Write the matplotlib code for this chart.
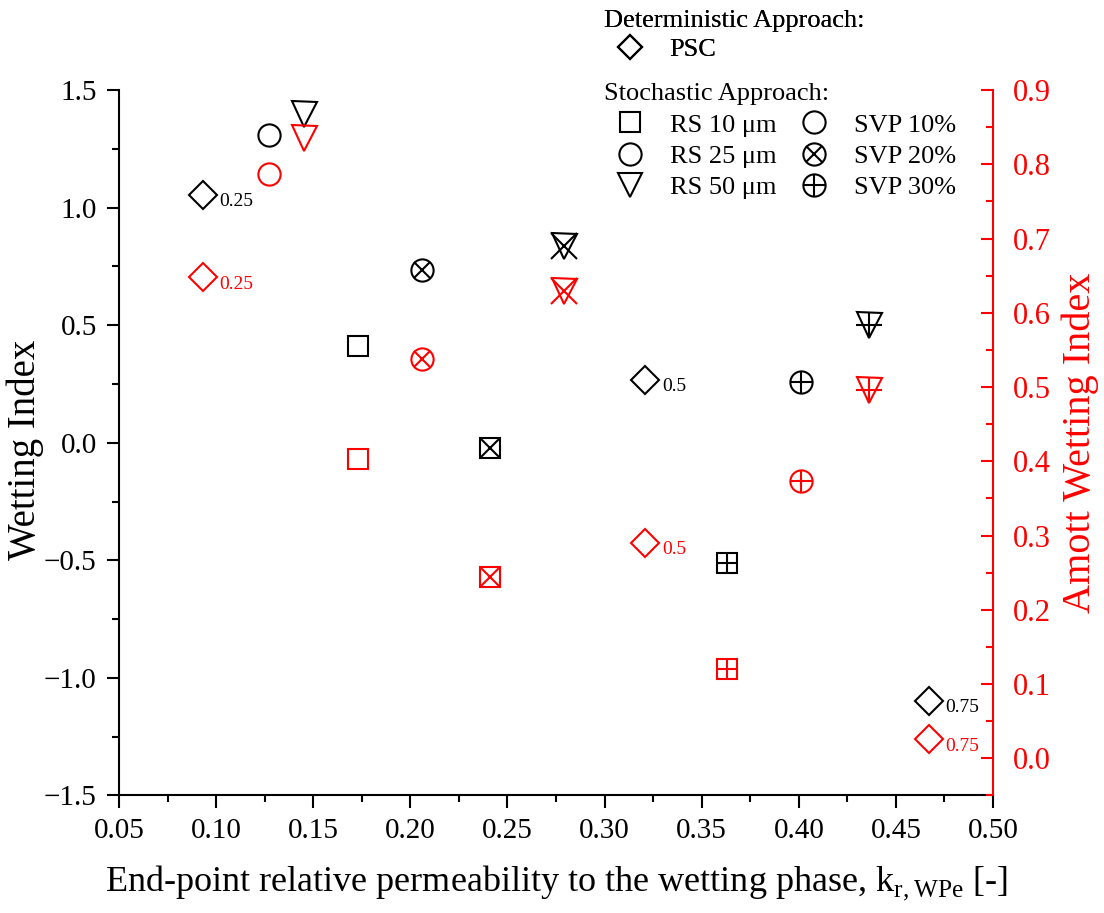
import numpy as np
import matplotlib
matplotlib.use("Agg")
import matplotlib.pyplot as plt
from matplotlib.lines import Line2D
from matplotlib.ticker import MultipleLocator, FuncFormatter
from matplotlib.legend_handler import HandlerTuple

plt.rcParams['font.family'] = ['Liberation Serif', 'DejaVu Serif']
plt.rcParams['mathtext.fontset'] = 'custom'
plt.rcParams['mathtext.rm'] = 'Liberation Serif'

# data
kr = [0.093, 0.127, 0.145, 0.173, 0.206, 0.241, 0.279, 0.321, 0.363, 0.401, 0.436, 0.467]
wi = [1.055, 1.309, 1.398, 0.412, 0.735, -0.021, 0.835, 0.268, -0.510, 0.257, 0.500, -1.097]
amott = [0.648, 0.787, 0.836, 0.403, 0.538, 0.244, 0.630, 0.290, 0.120, 0.374, 0.496, 0.026]
shape = ['PSC', 'RS25', 'RS50', 'RS10', 'RS25', 'RS10', 'RS50', 'PSC', 'RS10', 'RS25', 'RS50', 'PSC']
svp = ['', '', '', '', 'x', 'x', 'x', '', '+', '+', '+', '']
psc_labels = {0: '0.25', 7: '0.5', 11: '0.75'}

base = {'PSC': ('D', 14), 'RS10': ('s', 14), 'RS25': ('o', 16), 'RS50': ('v', 18)}

fig = plt.figure(figsize=(11.04, 9.13), dpi=100)
ax = fig.add_axes([0.1078, 0.1287, 0.7917, 0.7727])
ax2 = ax.twinx()


def draw(a, y, col):
    for i in range(len(kr)):
        m, ms = base[shape[i]]
        a.plot(kr[i], y[i], m, ms=ms, mfc='none', mec=col, mew=1.5)
        if svp[i]:
            if shape[i] == 'RS25':
                s2 = ms * 0.72 if svp[i] == 'x' else ms
            elif shape[i] == 'RS50':
                s2 = ms * 1.05
            else:
                s2 = ms
            a.plot(kr[i], y[i], svp[i], ms=s2, mec=col, mew=1.5)
        if i in psc_labels:
            a.annotate(psc_labels[i], (kr[i], y[i]), xytext=(12, -5),
                       textcoords='offset points', color=col, fontsize=14,
                       va='center', ha='left')


draw(ax, wi, 'black')
draw(ax2, amott, 'red')

ax.set_xlim(0.05, 0.50)
ax.set_ylim(-1.5, 1.5)
ax2.set_ylim(-0.05, 0.9)

fmt1 = FuncFormatter(lambda v, p: ('%.1f' % v).replace('-', '\u2212'))
ax.xaxis.set_major_locator(MultipleLocator(0.05))
ax.xaxis.set_minor_locator(MultipleLocator(0.025))
ax.yaxis.set_major_locator(MultipleLocator(0.5))
ax.yaxis.set_minor_locator(MultipleLocator(0.25))
ax2.yaxis.set_major_locator(MultipleLocator(0.1))
ax2.yaxis.set_minor_locator(MultipleLocator(0.05))
ax.xaxis.set_major_formatter(plt.FormatStrFormatter('%.2f'))
ax.yaxis.set_major_formatter(fmt1)
ax2.yaxis.set_major_formatter(fmt1)

for a in (ax, ax2):
    a.spines['top'].set_visible(False)
ax.spines['right'].set_visible(False)
ax2.spines['left'].set_visible(False)
ax2.spines['bottom'].set_visible(False)
ax2.spines['right'].set_color('red')
for a in (ax, ax2):
    for s in a.spines.values():
        s.set_linewidth(1.5)

ax.tick_params(which='major', direction='out', length=9, width=1.5, labelsize=21, pad=7)
ax.tick_params(which='minor', direction='out', length=5, width=1.5)
ax2.tick_params(which='major', direction='in', length=9, width=1.5, labelsize=22,
                colors='red', pad=14)
ax2.tick_params(which='minor', direction='in', length=5, width=1.5, colors='red')

ax.set_xlabel('End-point relative permeability to the wetting phase, $\\mathrm{k}_{\\mathrm{r,WPe}}$ [-]',
              fontsize=26, labelpad=14)
ax.set_ylabel('Wetting Index', fontsize=28)
ax.yaxis.set_label_coords(-0.086, 0.49)
ax2.set_ylabel('Amott Wetting Index', fontsize=29, color='red', labelpad=8)

# legends
def h(m, ms, extra=None, s2=None):
    l1 = Line2D([], [], marker=m, ms=ms, ls='none', mfc='none', mec='black', mew=1.5)
    if extra is None:
        return l1
    l2 = Line2D([], [], marker=extra, ms=s2, ls='none', mec='black', mew=1.5)
    return (l1, l2)


leg1 = fig.legend([h('D', 12)], ['PSC'], title='Deterministic Approach:',
                  loc='upper left', bbox_to_anchor=(0.530, 1.009), frameon=False,
                  fontsize=19, title_fontsize=19, alignment='left',
                  handlelength=2.0, handletextpad=0.5, borderpad=0.2,
                  labelspacing=0.2)
fig.add_artist(leg1)
handles = [h('s', 14), h('o', 16), h('v', 17),
           h('o', 16), h('o', 16, 'x', 11.5), h('o', 16, '+', 16)]
labels = ['RS 10 μm', 'RS 25 μm', 'RS 50 μm', 'SVP 10%', 'SVP 20%', 'SVP 30%']
fig.legend(handles, labels, title='Stochastic Approach:', ncol=2,
           loc='upper left', bbox_to_anchor=(0.530, 0.929), frameon=False,
           fontsize=19, title_fontsize=19, alignment='left',
           handlelength=2.0, handletextpad=0.5, borderpad=0.2,
           columnspacing=0.45, labelspacing=0.3,
           handler_map={tuple: HandlerTuple(ndivide=1)})

fig.savefig('out.png', dpi=100)
